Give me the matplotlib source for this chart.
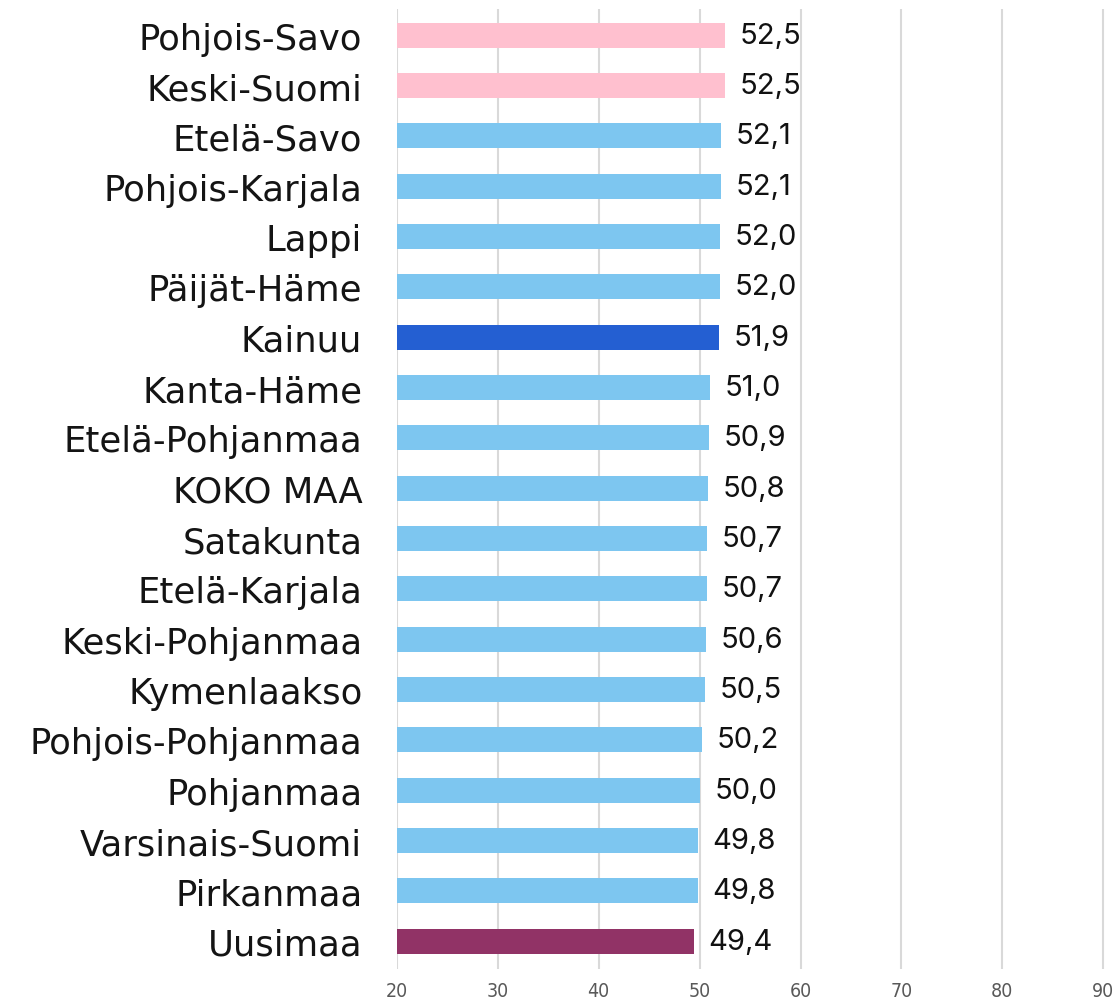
import matplotlib
matplotlib.use('Agg')
import matplotlib.pyplot as plt

regions = [
    'Pohjois-Savo', 'Keski-Suomi', 'Etelä-Savo', 'Pohjois-Karjala', 'Lappi',
    'Päijät-Häme', 'Kainuu', 'Kanta-Häme', 'Etelä-Pohjanmaa', 'KOKO MAA',
    'Satakunta', 'Etelä-Karjala', 'Keski-Pohjanmaa', 'Kymenlaakso',
    'Pohjois-Pohjanmaa', 'Pohjanmaa', 'Varsinais-Suomi', 'Pirkanmaa', 'Uusimaa',
]
values = [52.5, 52.5, 52.1, 52.1, 52.0, 52.0, 51.9, 51.0, 50.9, 50.8,
          50.7, 50.7, 50.6, 50.5, 50.2, 50.0, 49.8, 49.8, 49.4]
x_ticks = [20, 30, 40, 50, 60, 70, 80, 90]

PINK = '#FFC0CF'
LIGHT = '#7DC6F0'
colors = [LIGHT] * len(regions)
colors[0] = PINK
colors[1] = PINK
colors[regions.index('Kainuu')] = '#245FD2'
colors[regions.index('Uusimaa')] = '#913366'

fig = plt.figure(figsize=(11.17, 10.03), dpi=100)
ax = fig.add_axes([0.3554, 0.033, 0.634, 0.957])

y = list(range(len(regions)))
ax.barh(y, values, height=0.5, color=colors, left=0)
ax.set_xlim(20, 90.2)
ax.set_ylim(len(regions) - 0.45, -0.52)

ax.set_xticks(x_ticks)
ax.set_xticklabels([str(t) for t in x_ticks], fontsize=14, color='#595959',
                   family=['Liberation Sans Narrow', 'DejaVu Sans'],
                   fontstretch='condensed')
ax.set_yticks(y)
ax.set_yticklabels(regions, fontsize=25.5, color='#141414',
                   family=['DejaVu Sans'])
ax.tick_params(axis='y', length=0, pad=25)
ax.tick_params(axis='x', length=0, pad=9)

ax.grid(axis='x', color='#D9D9D9', linewidth=1.5)
ax.set_axisbelow(True)
for s in ax.spines.values():
    s.set_visible(False)

for yi, v in zip(y, values):
    ax.text(v + 1.5, yi, f'{v:.1f}'.replace('.', ','), va='center', ha='left',
            fontsize=21, color='#111111', family=['Inter', 'DejaVu Sans'])

fig.savefig('out.png', dpi=100)
